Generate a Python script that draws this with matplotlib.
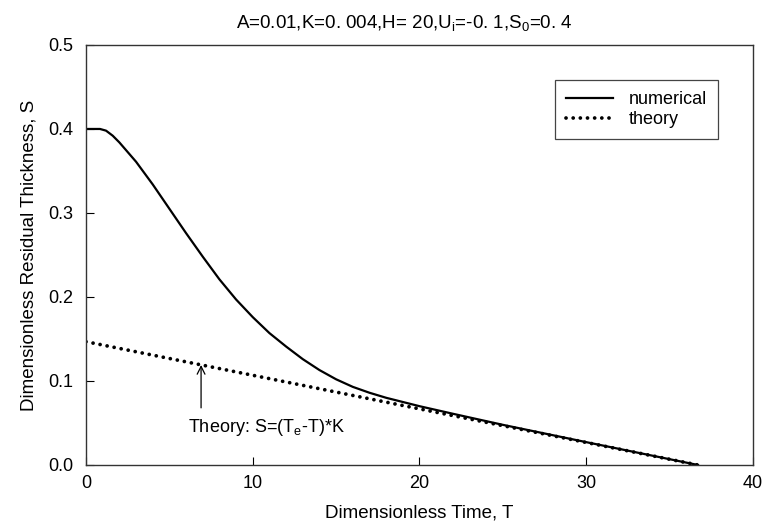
"""Residual thickness vs time: numerical solution against linear theory."""

import matplotlib
matplotlib.use("Agg")
import matplotlib.pyplot as plt

plt.rcParams["font.family"] = ["Liberation Sans", "DejaVu Sans"]
plt.rcParams["mathtext.default"] = "regular"

# numerical solution
t_num = [0.0, 0.84, 1.2, 1.6, 2.0, 3.0, 4.0, 5.0, 6.0, 7.0, 8.0, 9.0, 10.0,
         11.0, 12.0, 13.0, 14.0, 15.0, 16.0, 17.0, 18.0, 20.0, 22.0, 25.0,
         30.0, 36.7]
s_num = [0.400, 0.400, 0.398, 0.392, 0.384, 0.361, 0.334, 0.305, 0.276, 0.248,
         0.221, 0.197, 0.176, 0.157, 0.141, 0.126, 0.113, 0.102, 0.093, 0.086,
         0.080, 0.0700, 0.0610, 0.0478, 0.0272, 0.0]

# theory: S = (Te - T) * K
t_theory = [0.0, 36.7]
s_theory = [0.1468, 0.0]

x_ticks = [0, 10, 20, 30, 40]
y_ticks = [0.0, 0.1, 0.2, 0.3, 0.4, 0.5]

fig = plt.figure(figsize=(7.66, 5.29), dpi=100)
ax = fig.add_axes([0.1123, 0.121, 0.8707, 0.794])

ax.plot(t_num, s_num, color="black", lw=1.6, label="numerical")
ax.plot(t_theory, s_theory, color="black", lw=2.7, linestyle=(0, (0.01, 1.9)),
        dash_capstyle="round", label="theory")

ax.annotate("", xy=(6.9, 0.119), xytext=(6.9, 0.068),
            arrowprops=dict(arrowstyle="->", color="black", lw=0.9,
                            mutation_scale=14, shrinkA=0, shrinkB=0))
ax.text(10.8, 0.045, "Theory: S=(T$_e$-T)*K", ha="center", va="center", fontsize=13)

ax.set_xlim(0, 40)
ax.set_ylim(0, 0.5)
ax.set_xticks(x_ticks)
ax.set_yticks(y_ticks)
ax.set_yticklabels([f"{v:.1f}" for v in y_ticks])
ax.tick_params(direction="in", length=6, width=0.8, labelsize=13, pad=7,
               colors="black")
ax.tick_params(axis="y", pad=9)
for side in ax.spines.values():
    side.set_linewidth(1.0)
    side.set_color("#333333")

ax.set_xlabel("Dimensionless Time, T", fontsize=13.5, labelpad=9)
ax.set_ylabel("Dimensionless Residual Thickness, S", fontsize=13.5, labelpad=8)
ax.set_title("A=0.01,K=0. 004,H= 20,U$_i$=-0. 1,S$_0$=0. 4", fontsize=13.5,
             pad=12, x=0.478)

leg = ax.legend(loc="upper right", bbox_to_anchor=(0.961, 0.937), fontsize=13,
                fancybox=False, framealpha=1, edgecolor="#444444",
                handlelength=2.6, handletextpad=0.9, borderpad=0.6,
                labelspacing=0.15)
leg.get_frame().set_linewidth(0.9)

fig.savefig("out.png", dpi=100)
plt.close(fig)
